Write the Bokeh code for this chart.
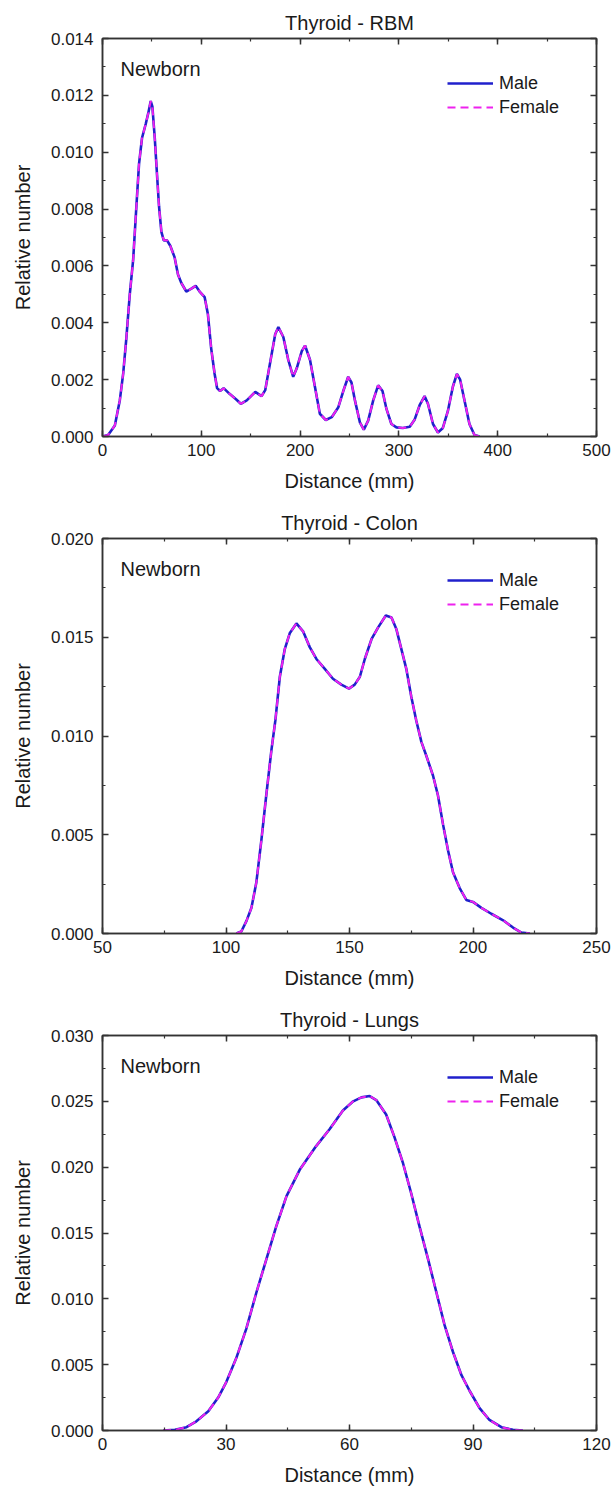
from bokeh.plotting import figure
from bokeh.layouts import column
from bokeh.models import (Range1d, LinearAxis, SingleIntervalTicker, NumeralTickFormatter,
                          CustomJSTickFormatter, Legend, LegendItem, Label)
from bokeh.embed import file_html
from bokeh.resources import INLINE

FONT = "Liberation Sans"

# ---------------- data ----------------
rbm_x = [0, 5.7, 12.5, 17.5, 20.9, 24, 27.6, 31, 34.3, 37, 40, 43.8, 46.5, 48.8, 50.5, 52.9, 55.2,
         57.2, 59.6, 62, 65.3, 68.7, 73, 76.4, 79.8, 84.8, 89.9, 94.3, 98.3, 103.4, 106.7, 110,
         113.5, 116, 119, 122.6, 128.6, 135.4, 140, 146, 154.6, 161, 164.7, 169.7, 174.8, 178,
         183, 188, 193, 196.6, 201.7, 205, 210, 215, 220, 226, 232, 238.7, 243.7, 248.7, 252,
         255.5, 260.5, 264.5, 268.9, 274, 279, 283.4, 287.4, 292.4, 297.5, 304, 311, 316, 321,
         326, 329.4, 334.5, 339.5, 344.5, 349.6, 354.6, 358.7, 362, 366.4, 371.4, 376.5, 381.5]
rbm_male = [0.0, 0.00005, 0.00039, 0.00127, 0.0022, 0.0034, 0.0050, 0.0062, 0.0081, 0.0096, 0.0105,
            0.0110, 0.0114, 0.0118, 0.0116, 0.0105, 0.0092, 0.0081, 0.0072, 0.0069, 0.0069,
            0.0067, 0.0063, 0.0057, 0.0054, 0.0051, 0.0052, 0.0053, 0.0051, 0.0049, 0.0043,
            0.0031, 0.0022, 0.0017, 0.0016, 0.0017, 0.0015, 0.0013, 0.00115, 0.00127, 0.00157,
            0.00142, 0.00163, 0.0026, 0.0036, 0.00385, 0.0035, 0.0027, 0.0021, 0.0024, 0.0030,
            0.0032, 0.0027, 0.00175, 0.0008, 0.00058, 0.00068, 0.00103, 0.0016, 0.0021, 0.0019,
            0.00127, 0.0005, 0.00024, 0.00056, 0.00127, 0.0018, 0.0016, 0.00097, 0.00044,
            0.00032, 0.0003, 0.00034, 0.0006, 0.0011, 0.00142, 0.00115, 0.00044, 0.00014, 0.0003,
            0.0009, 0.00175, 0.0022, 0.0020, 0.00127, 0.00044, 0.00005, 0.0]
rbm_female = list(rbm_male)

colon_x = [104.2, 106.2, 108.3, 110.3, 112.3, 114.3, 116.3, 118.4, 120, 121.8, 123.8, 125.8, 128.5,
           131.2, 133.9, 136.6, 140, 143.3, 146.7, 149.8, 152.1, 154.2, 156.2, 158.9, 161.6,
           164.7, 167, 169, 171, 173, 175, 177, 179.1, 181.1, 183.8, 185.8, 187.9, 189.9, 191.9,
           194.6, 197.3, 200, 203.4, 207.4, 212.2, 216.2, 219.6, 223]
colon_male = [0.0, 0.0001, 0.00064, 0.0013, 0.0026, 0.0047, 0.0070, 0.0093, 0.0108, 0.0130, 0.0144,
              0.0152, 0.0157, 0.0153, 0.0145, 0.0139, 0.0134, 0.0129, 0.0126, 0.0124, 0.0126,
              0.0130, 0.0139, 0.0149, 0.0155, 0.0161, 0.0160, 0.0154, 0.0144, 0.0134, 0.0120,
              0.0108, 0.0097, 0.0090, 0.0080, 0.0070, 0.0055, 0.0042, 0.0031, 0.0023, 0.0017,
              0.0016, 0.0013, 0.0010, 0.00067, 0.0003, 0.00005, 0.0]
colon_female = list(colon_male)

lungs_x = [14.7, 17.6, 20.4, 22.8, 25.7, 28.1, 30.1, 32.5, 34.9, 37.4, 39.8, 42.2, 44.7, 47.9, 51.9,
           55.2, 58.4, 60.9, 62.9, 64.9, 66.5, 68.9, 70.9, 73, 75, 77, 79.1, 81.1, 83.1, 85.1,
           87.2, 89.2, 91.6, 94, 96.9, 99.7, 102.1]
lungs_male = [0.0, 0.00005, 0.00025, 0.0007, 0.00146, 0.0025, 0.0037, 0.0055, 0.0077, 0.0105, 0.0130,
              0.0155, 0.0178, 0.0198, 0.0216, 0.0229, 0.0243, 0.0250, 0.0253, 0.0254, 0.0251,
              0.0240, 0.0223, 0.0203, 0.0180, 0.0155, 0.0130, 0.0105, 0.0080, 0.0060, 0.0042,
              0.0030, 0.0017, 0.0008, 0.00025, 0.00005, 0.0]
lungs_female = list(lungs_male)

titles = ["Thyroid - RBM", "Thyroid - Colon", "Thyroid - Lungs"]
series_names = ["Male", "Female"]
group_label = "Newborn"
x_label = "Distance (mm)"
y_label = "Relative number"

MALE_COLOR = "#2020cc"
FEMALE_COLOR = "#ee22ee"
AX_COLOR = "#333333"
TXT_COLOR = "#1a1a1a"


def style_axis(ax, interval, labels=True, fmt=None):
    ax.ticker = SingleIntervalTicker(interval=interval, num_minor_ticks=2)
    ax.axis_line_color = AX_COLOR
    ax.axis_line_width = 1.5
    ax.major_tick_line_color = AX_COLOR
    ax.minor_tick_line_color = AX_COLOR
    ax.major_tick_line_width = 1.5
    ax.minor_tick_line_width = 1.2
    ax.major_tick_in = 6
    ax.major_tick_out = 0
    ax.minor_tick_in = 3
    ax.minor_tick_out = 0
    ax.major_label_text_font = FONT
    ax.major_label_text_font_size = "17px"
    ax.major_label_text_color = TXT_COLOR
    ax.axis_label_text_font = FONT
    ax.axis_label_text_font_size = "20px"
    ax.axis_label_text_font_style = "normal"
    ax.axis_label_text_color = TXT_COLOR
    if not labels:
        ax.formatter = CustomJSTickFormatter(code="return ''")
        ax.major_label_standoff = 0
    elif fmt is not None:
        ax.formatter = fmt


def make_panel(title, xs, male, female, xr, yr, xint, yint, height, top, bottom):
    p = figure(width=613, height=height, x_range=Range1d(*xr), y_range=Range1d(*yr),
               output_backend="svg", toolbar_location=None,
               min_border_left=102, min_border_right=17, min_border_top=top,
               min_border_bottom=bottom)
    p.title.text = title
    p.title.align = "center"
    p.title.text_font = FONT
    p.title.text_font_size = "20px"
    p.title.text_font_style = "normal"
    p.title.text_color = TXT_COLOR
    p.title.standoff = 9
    p.grid.visible = False
    p.outline_line_color = AX_COLOR
    p.outline_line_width = 1.5

    style_axis(p.xaxis[0], xint)
    p.xaxis[0].axis_label = x_label
    p.xaxis[0].major_label_standoff = 7
    p.xaxis[0].axis_label_standoff = 11
    style_axis(p.yaxis[0], yint, fmt=NumeralTickFormatter(format="0.000"))
    p.yaxis[0].axis_label = y_label
    p.yaxis[0].major_label_standoff = 9
    p.yaxis[0].axis_label_standoff = 14

    top_ax = LinearAxis()
    style_axis(top_ax, xint, labels=False)
    p.add_layout(top_ax, "above")
    right_ax = LinearAxis()
    style_axis(right_ax, yint, labels=False)
    p.add_layout(right_ax, "right")

    r_m = p.line(xs, male, line_color=MALE_COLOR, line_width=2.6)
    r_f = p.line(xs, female, line_color=FEMALE_COLOR, line_width=2.0, line_dash="8 5")

    leg = Legend(items=[LegendItem(label=series_names[0], renderers=[r_m]),
                        LegendItem(label=series_names[1], renderers=[r_f])],
                 location=(345, 317), margin=0, padding=4, spacing=0,
                 label_height=24, glyph_height=24, glyph_width=46, label_standoff=6,
                 border_line_color=None, background_fill_alpha=0,
                 label_text_font=FONT, label_text_font_size="18px", label_text_color=TXT_COLOR)
    p.add_layout(leg)

    p.add_layout(Label(x=xr[0], y=yr[1], x_offset=18, y_offset=-30, text=group_label,
                       text_font=FONT, text_font_size="20px", text_color=TXT_COLOR,
                       text_baseline="middle", text_align="left"))
    return p


p1 = make_panel(titles[0], rbm_x, rbm_male, rbm_female, (0, 500), (0, 0.014), 100, 0.002, 505, 38, 69)
p2 = make_panel(titles[1], colon_x, colon_male, colon_female, (50, 250), (0, 0.020), 50, 0.005, 497, 30, 69)
p3 = make_panel(titles[2], lungs_x, lungs_male, lungs_female, (0, 120), (0, 0.030), 30, 0.005, 491, 30, 63)

layout = column(p1, p2, p3, spacing=0)
open("out.html", "w").write(file_html(layout, INLINE))
